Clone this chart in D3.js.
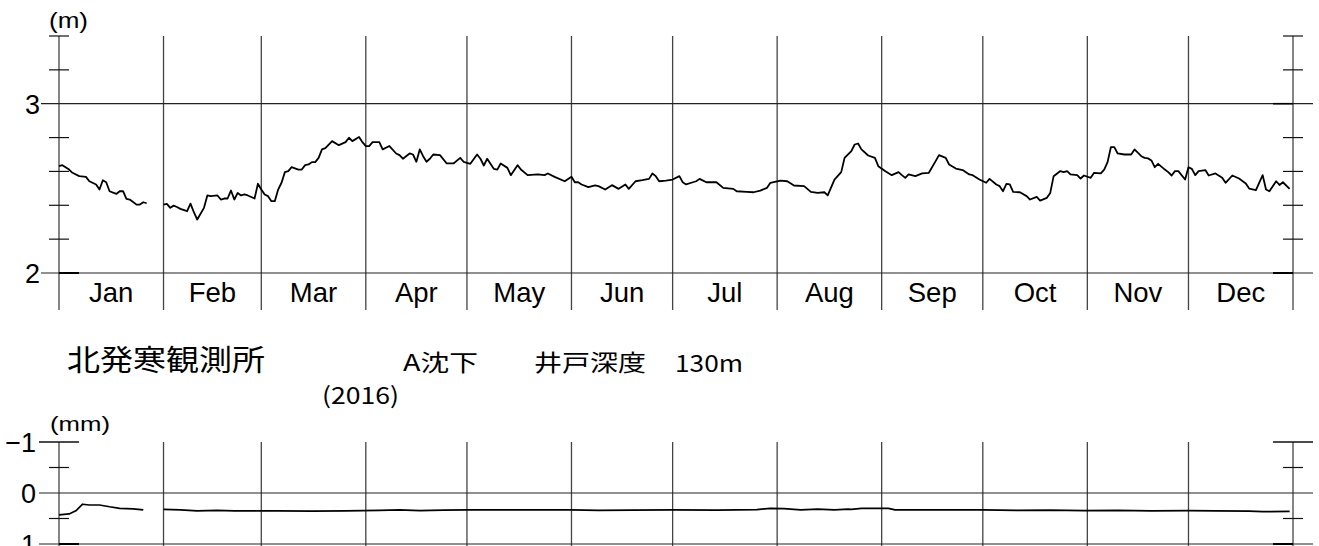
<!DOCTYPE html>
<html><head><meta charset="utf-8">
<script src="https://cdn.jsdelivr.net/npm/d3@7"></script>
<style>html,body{margin:0;padding:0;background:#fff;}svg{display:block;}</style>
</head><body>
<svg id="chart" width="1319" height="546"></svg>
<script>
// ---- data (2016, day-of-year index from Jan 1) ----
const monthLabels = ["Jan","Feb","Mar","Apr","May","Jun","Jul","Aug","Sep","Oct","Nov","Dec"];
const levelTicks = [2, 3];
const levelMinorTicks = [2.2, 2.4, 2.6, 2.8, 3.2, 3.4];
const subsTicks = [-1, 0, 1];
const subsMinorTicks = [-0.5, 0.5];
const titleStation = "北発寒観測所";
const titleType = "A沈下";
const titleWell = "井戸深度";
const titleDepth = "130m";
const titleYear = "(2016)";

// groundwater level (m)
const levelDays = [0,1,3,4,6,8,9,11,12,13,14,15,17,18,19,20,21,23,24,25,26,28,
31,32,33,34,35,36,38,39,40,41,43,44,45,47,48,49,50,51,52,53,54,55,56,58,59,60,61,62,63,64,65,66,67,68,69,71,72,73,74,75,76,77,78,79,81,83,85,86,87,89,90,91,92,93,95,96,98,
100,101,102,104,105,106,107,108,109,110,111,113,115,117,119,120,122,124,125,126,127,129,130,131,133,134,136,137,139,142,144,145,147,150,152,153,154,155,157,159,160,162,164,166,168,169,171,173,175,176,177,178,180,182,184,185,186,188,189,190,
192,194,195,197,200,201,204,206,208,210,211,214,216,218,221,223,225,227,228,230,232,233,235,236,237,238,240,242,243,245,247,249,250,251,252,254,256,258,260,261,263,264,266,268,270,271,273,275,276,278,279,280,281,282,283,285,287,288,290,291,293,294,
295,297,298,299,300,302,303,304,306,307,309,310,311,312,313,314,316,318,319,321,322,323,324,325,326,328,329,330,331,332,334,335,336,337,338,340,341,343,345,346,348,350,352,353,355,357,358,359,361,362,363,365];
const levelValues = [2.631,2.637,2.611,2.592,2.572,2.568,2.542,2.523,2.493,2.548,2.536,2.483,2.467,2.483,2.483,2.438,2.434,2.404,2.404,2.418,2.412,null,
2.404,2.408,2.385,2.398,2.390,2.379,2.365,2.410,2.359,2.316,2.385,2.458,2.454,2.458,2.434,2.440,2.440,2.487,2.434,2.473,2.458,2.464,2.458,2.440,2.527,2.493,2.464,2.454,2.424,2.424,2.493,2.533,2.596,2.602,2.625,2.611,2.611,2.637,2.641,2.655,2.655,2.680,2.730,2.738,2.779,2.755,2.773,2.799,2.779,2.803,2.773,2.750,2.750,2.773,2.773,2.730,2.750,
2.706,2.696,2.675,2.706,2.700,2.657,2.730,2.690,2.657,2.675,2.700,2.696,2.647,2.647,2.680,2.657,2.645,2.700,2.675,2.635,2.675,2.615,2.611,2.647,2.621,2.578,2.637,2.611,2.578,2.582,2.578,2.588,2.568,2.542,2.568,2.536,2.536,2.523,2.507,2.517,2.513,2.493,2.519,2.497,2.523,2.497,2.542,2.548,2.556,2.588,2.572,2.542,2.546,2.552,2.572,2.536,2.523,2.536,2.542,2.556,
2.536,2.536,2.536,2.503,2.497,2.483,2.479,2.477,2.487,2.503,2.533,2.546,2.542,2.517,2.513,2.479,2.473,2.477,2.458,2.552,2.596,2.680,2.720,2.759,2.765,2.730,2.694,2.680,2.631,2.602,2.578,2.596,2.578,2.562,2.582,2.572,2.588,2.592,2.661,2.696,2.680,2.641,2.617,2.608,2.582,2.578,2.552,2.533,2.556,2.523,2.513,2.483,2.527,2.523,2.479,2.477,2.454,2.434,2.450,2.428,2.444,2.473,
2.572,2.602,2.596,2.602,2.582,2.578,2.558,2.576,2.562,2.592,2.588,2.611,2.655,2.744,2.744,2.706,2.700,2.700,2.730,2.690,2.680,2.677,2.665,2.625,2.645,2.611,2.596,2.576,2.602,2.602,2.552,2.625,2.615,2.578,2.602,2.608,2.576,2.588,2.562,2.533,2.576,2.558,2.529,2.499,2.489,2.578,2.493,2.483,2.542,2.520,2.536,2.497];

// subsidence (mm, positive = down)
const subsDays = [0,3,5,7,9,12,15,18,22,25,28,31,36,41,47,52,57,65,75,85,95,101,107,114,121,131,152,160,170,182,195,207,211,215,220,225,230,234,235,238,242,246,248,274,284,294,304,314,324,335,343,353,357,365];
const subsValues = [0.43,0.41,0.35,0.22,0.235,0.235,0.27,0.30,0.31,0.33,null,0.32,0.33,0.35,0.34,0.35,0.35,0.35,0.355,0.35,0.34,0.33,0.345,0.335,0.33,0.33,0.33,0.34,0.335,0.33,0.335,0.325,0.30,0.305,0.33,0.315,0.33,0.315,0.32,0.30,0.30,0.30,0.33,0.33,0.34,0.335,0.345,0.34,0.35,0.345,0.35,0.355,0.365,0.36];

// ---- layout ----
const svg = d3.select("#chart");
const start = new Date(2016, 0, 1), end = new Date(2017, 0, 1);
const x = d3.scaleTime().domain([start, end]).range([59, 1293]);
const dayDate = d => d3.timeDay.offset(start, d);
const months = d3.timeMonth.range(start, end);

const yTop = d3.scaleLinear().domain([2, 3.4]).range([273, 36]);
const yBot = d3.scaleLinear().domain([-1, 1]).range([442, 544]);

const axisFont = "'Liberation Sans', Arial, sans-serif";
const cjkFont = "'Noto Sans CJK JP', sans-serif";
const gridColor = "#222";
const vColor = "#444";

// ---------- top panel ----------
const gTop = svg.append("g");
gTop.selectAll("line.m").data(months.concat([end])).join("line")
  .attr("x1", d => x(d)).attr("x2", d => x(d))
  .attr("y1", yTop(3.4)).attr("y2", 310)
  .attr("stroke", vColor).attr("stroke-width", 1.3);
gTop.selectAll("line.g").data(levelTicks).join("line")
  .attr("x1", 41).attr("x2", 1313)
  .attr("y1", d => yTop(d)).attr("y2", d => yTop(d))
  .attr("stroke", gridColor).attr("stroke-width", 1.2);
gTop.append("line").attr("x1", 59).attr("x2", 79).attr("y1", yTop(2)).attr("y2", yTop(2)).attr("stroke", "#000").attr("stroke-width", 2);
gTop.append("line").attr("x1", 1273).attr("x2", 1293).attr("y1", yTop(2)).attr("y2", yTop(2)).attr("stroke", "#000").attr("stroke-width", 2);
gTop.append("line").attr("x1", 1273).attr("x2", 1293).attr("y1", yTop(3)).attr("y2", yTop(3)).attr("stroke", "#000").attr("stroke-width", 1.6);
[59, 1293].forEach(ax => {
  gTop.append("g").selectAll("line").data(levelMinorTicks).join("line")
    .attr("x1", ax - 10).attr("x2", ax + 10)
    .attr("y1", d => yTop(d)).attr("y2", d => yTop(d))
    .attr("stroke", "#111").attr("stroke-width", 1.2);
});
gTop.append("g").selectAll("text").data(levelTicks).join("text")
  .attr("x", 40).attr("y", d => yTop(d) + 10)
  .attr("text-anchor", "end").attr("font-family", axisFont).attr("font-size", 27)
  .text(d => d);
gTop.append("text").attr("x", 49).attr("y", 28).attr("font-family", axisFont)
  .attr("font-size", 22).attr("textLength", 39).attr("lengthAdjust", "spacingAndGlyphs").text("(m)");
gTop.append("g").selectAll("text").data(months).join("text")
  .attr("x", (d, i) => (x(d) + x(i < 11 ? months[i + 1] : end)) / 2)
  .attr("y", 302).attr("text-anchor", "middle")
  .attr("font-family", axisFont).attr("font-size", 27.5)
  .text((d, i) => monthLabels[i]);
const levelData = levelDays.map((d, i) => ({ d: dayDate(d), v: levelValues[i] }));
gTop.append("path").datum(levelData)
  .attr("fill", "none").attr("stroke", "#000").attr("stroke-width", 1.8).attr("stroke-linejoin", "round")
  .attr("d", d3.line().defined(p => p.v !== null).x(p => x(p.d)).y(p => yTop(p.v)));

// ---------- titles ----------
svg.append("text").attr("x", 67).attr("y", 371).attr("font-family", cjkFont).attr("font-size", 29)
  .attr("textLength", 198).attr("lengthAdjust", "spacingAndGlyphs").text(titleStation);
svg.append("text").attr("x", 403).attr("y", 371).attr("font-family", cjkFont).attr("font-size", 23)
  .attr("textLength", 75).attr("lengthAdjust", "spacingAndGlyphs").text(titleType);
svg.append("text").attr("x", 534).attr("y", 371).attr("font-family", cjkFont).attr("font-size", 23)
  .attr("textLength", 112).attr("lengthAdjust", "spacingAndGlyphs").text(titleWell);
svg.append("text").attr("x", 675).attr("y", 372).attr("font-family", cjkFont).attr("font-size", 23)
  .attr("textLength", 68).attr("lengthAdjust", "spacingAndGlyphs").text(titleDepth);
svg.append("text").attr("x", 322).attr("y", 404).attr("font-family", cjkFont).attr("font-size", 23)
  .attr("textLength", 77).attr("lengthAdjust", "spacingAndGlyphs").text(titleYear);

// ---------- bottom panel ----------
const gBot = svg.append("g");
gBot.selectAll("line.m").data(months.concat([end])).join("line")
  .attr("x1", d => x(d)).attr("x2", d => x(d))
  .attr("y1", yBot(-1)).attr("y2", 546)
  .attr("stroke", vColor).attr("stroke-width", 1.3);
gBot.append("g").selectAll("line").data([0, 1]).join("line")
  .attr("x1", 39).attr("x2", 1313)
  .attr("y1", d => yBot(d)).attr("y2", d => yBot(d))
  .attr("stroke", gridColor).attr("stroke-width", 1.2);
gBot.append("line").attr("x1", 39).attr("x2", 79).attr("y1", yBot(-1)).attr("y2", yBot(-1)).attr("stroke", "#111").attr("stroke-width", 1.3);
gBot.append("line").attr("x1", 1273).attr("x2", 1313).attr("y1", yBot(-1)).attr("y2", yBot(-1)).attr("stroke", "#111").attr("stroke-width", 1.3);
gBot.append("line").attr("x1", 59).attr("x2", 79).attr("y1", yBot(1)).attr("y2", yBot(1)).attr("stroke", "#000").attr("stroke-width", 2);
gBot.append("line").attr("x1", 1273).attr("x2", 1293).attr("y1", yBot(1)).attr("y2", yBot(1)).attr("stroke", "#000").attr("stroke-width", 2);
[59, 1293].forEach(ax => {
  gBot.append("g").selectAll("line").data(subsMinorTicks).join("line")
    .attr("x1", ax - 10).attr("x2", ax + 10)
    .attr("y1", d => yBot(d)).attr("y2", d => yBot(d))
    .attr("stroke", "#111").attr("stroke-width", 1.2);
});
gBot.append("g").selectAll("text").data(subsTicks).join("text")
  .attr("x", 36).attr("y", d => yBot(d) + 10)
  .attr("text-anchor", "end").attr("font-family", axisFont).attr("font-size", 27)
  .text(d => d < 0 ? "\u2212" + Math.abs(d) : d);
gBot.append("text").attr("x", 50).attr("y", 431).attr("font-family", axisFont)
  .attr("font-size", 21).attr("textLength", 60).attr("lengthAdjust", "spacingAndGlyphs").text("(mm)");
const subsData = subsDays.map((d, i) => ({ d: dayDate(d), v: subsValues[i] }));
gBot.append("path").datum(subsData)
  .attr("fill", "none").attr("stroke", "#000").attr("stroke-width", 1.7).attr("stroke-linejoin", "round")
  .attr("d", d3.line().defined(p => p.v !== null).x(p => x(p.d)).y(p => yBot(p.v)));
</script>
</body></html>
